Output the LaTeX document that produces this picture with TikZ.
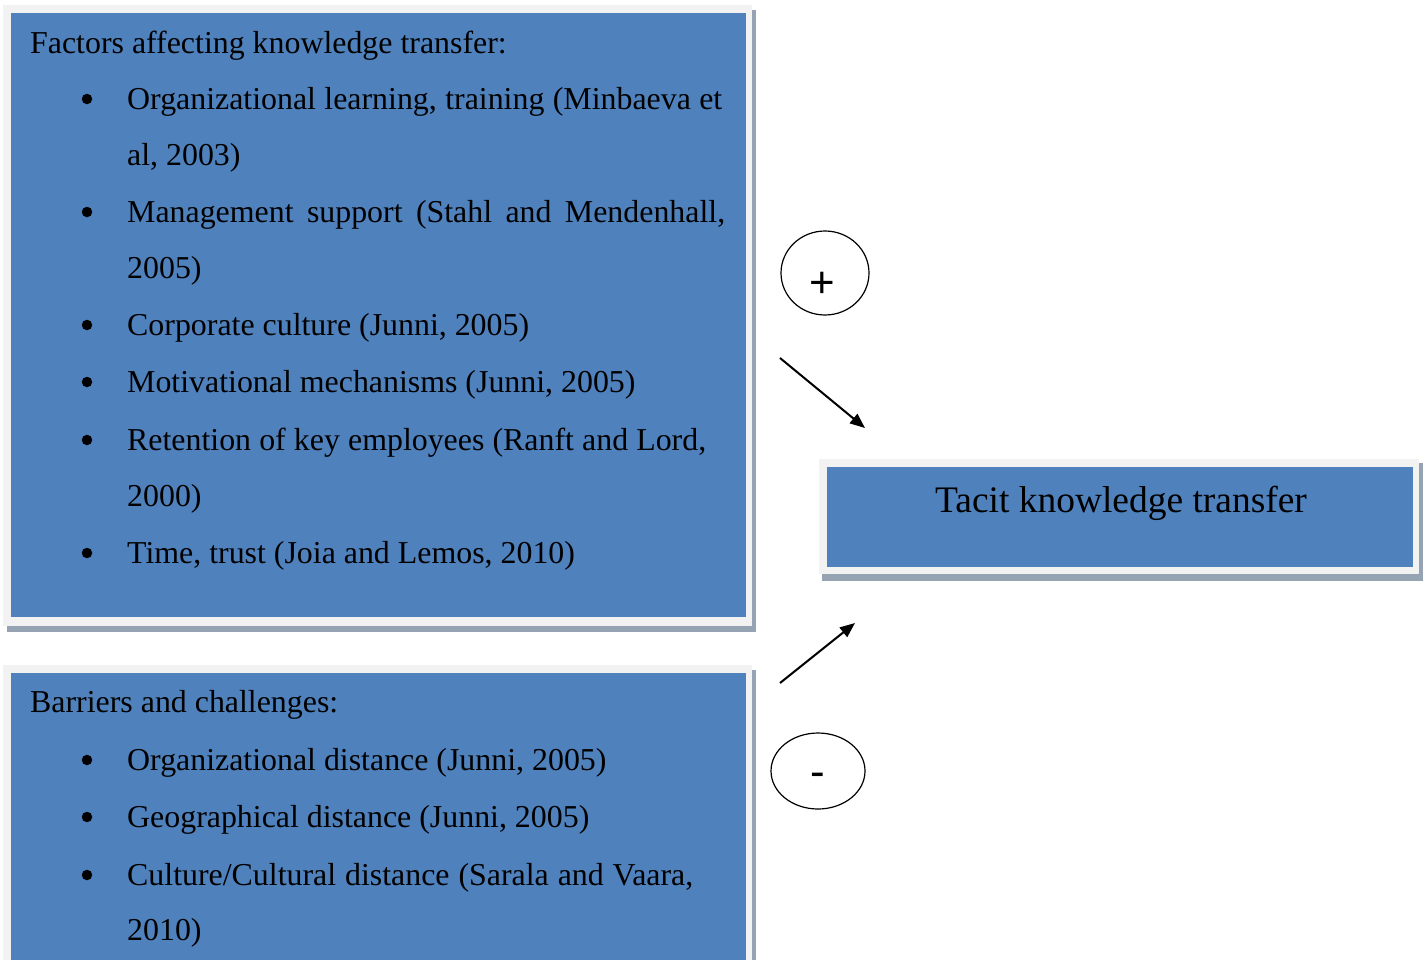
\documentclass[tikz,border=0pt]{standalone}
\usepackage{fontspec}
\setmainfont{Liberation Serif}
\newfontfamily\signfont{Liberation Sans}
\usetikzlibrary{shapes.geometric,arrows.meta}
\definecolor{boxblue}{HTML}{4F81BD}
\definecolor{framegray}{HTML}{F2F2F2}
\definecolor{shadowgray}{HTML}{95A3B3}
\tikzset{
  bodytext/.style={anchor=base west,inner sep=0pt,font=\fontsize{32}{38}\selectfont},
  bul/.style={circle,fill=black,inner sep=0pt,minimum size=10.5bp},
  signoval/.style={draw,ellipse,line width=1.2bp,inner sep=0pt},
  signtext/.style={inner sep=0pt,font=\signfont\fontsize{44}{44}\selectfont},
  conn/.style={line width=2bp,-{Triangle[length=15bp,width=12bp]}},
}
\begin{document}
\begin{tikzpicture}[x=1bp,y=-1bp]
\useasboundingbox[fill=white] (0,0) rectangle (1427,960);
% box 1
\fill[shadowgray] (7,10) rectangle (756,632);
\fill[framegray] (3,5) rectangle (752,626);
\node[fill=boxblue,inner sep=0pt,minimum width=735bp,minimum height=604bp,anchor=north west] (b1) at (11,13) {};
% box 2
\fill[shadowgray] (7,670) rectangle (756,960);
\fill[framegray] (3,665) rectangle (752,960);
\node[fill=boxblue,inner sep=0pt,minimum width=735bp,minimum height=287bp,anchor=north west] (b2) at (11,673) {};
% box 3
\fill[shadowgray] (822,463) rectangle (1423,581);
\fill[framegray] (819,459) rectangle (1419,574);
\node[fill=boxblue,inner sep=0pt,minimum width=586bp,minimum height=100bp,anchor=north west] (b3) at (827,467) {};
\node[anchor=base,inner sep=0pt,font=\fontsize{37.6}{44}\selectfont] (t3) at (1121,512) {Tacit knowledge transfer};

% box 1 text
\node[bodytext] (h1) at (30,53) {Factors affecting knowledge transfer:};
\foreach \i/\y in {1/99,2/212,3/325,4/382,5/440,6/553}{
  \node[bul] (d\i) at (87,\y) {};
}
\node[bodytext] (l1) at (127,109) {\makebox[595bp][s]{Organizational learning, training (Minbaeva et}};
\node[bodytext] (l1b) at (127,165) {al, 2003)};
\node[bodytext] (l2) at (127,222) {\makebox[598bp][s]{Management support (Stahl and Mendenhall,}};
\node[bodytext] (l2b) at (127,278) {2005)};
\node[bodytext] (l3) at (127,335) {Corporate culture (Junni, 2005)};
\node[bodytext] (l4) at (127,392) {Motivational mechanisms (Junni, 2005)};
\node[bodytext] (l5) at (127,450) {\makebox[579bp][s]{Retention of key employees (Ranft and Lord,}};
\node[bodytext] (l5b) at (127,506) {2000)};
\node[bodytext] (l6) at (127,563) {Time, trust (Joia and Lemos, 2010)};

% box 2 text
\node[bodytext] (h2) at (30,712) {Barriers and challenges:};
\foreach \i/\y in {7/760,8/817,9/875}{
  \node[bul] (d\i) at (87,\y) {};
}
\node[bodytext] (m1) at (127,770) {Organizational distance (Junni, 2005)};
\node[bodytext] (m2) at (127,827) {Geographical distance (Junni, 2005)};
\node[bodytext] (m3) at (127,885) {\makebox[566bp][s]{Culture/Cultural distance (Sarala and Vaara,}};
\node[bodytext] (m3b) at (127,940) {2010)};

% signs
\node[signoval,minimum width=88bp,minimum height=84bp] (plus) at (825,273) {};
\node[signtext] (plust) at (822,285) {+};
\node[signoval,minimum width=94bp,minimum height=76bp] (minus) at (818,771) {};
\node[signtext] (minust) at (818,780) {-};

% arrows
\coordinate (a1s) at (780,358);
\coordinate (a1e) at (865,428);
\coordinate (a2s) at (780,683);
\coordinate (a2e) at (855,623);
\draw[conn] (a1s) -- (a1e);
\draw[conn] (a2s) -- (a2e);
\end{tikzpicture}
\end{document}
